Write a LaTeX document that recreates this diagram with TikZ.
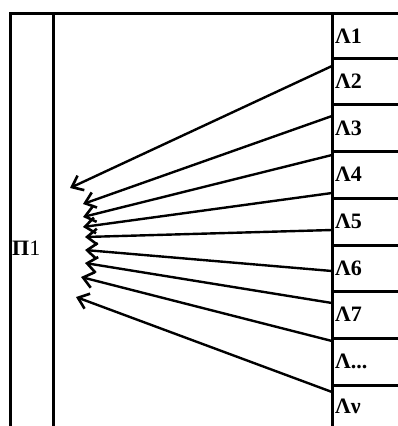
\documentclass[tikz,border=0pt]{standalone}
\usepackage{fontspec}
\setmainfont{Liberation Serif}
\usetikzlibrary{arrows.meta}
\begin{document}
\begin{tikzpicture}[x=1pt,y=-1pt,
  border/.style={line width=3pt, line cap=rect},
  link/.style={line width=2.4pt, -{Straight Barb[length=10pt,width=16pt,line width=2.6pt]}},
  lab/.style={anchor=west, inner sep=0pt, font=\fontsize{22}{22}\selectfont\bfseries}]
\useasboundingbox (0,0) rectangle (398,426);
% frame
\draw[border] (10,426) -- (10,13) -- (398,13);
\draw[border] (53,13) -- (53,426);
\draw[border] (332,13) -- (332,426);
\foreach \y in {58,104,151,198,245,291,338,385}
  \draw[border] (332,\y) -- (398,\y);
% labels
\node[lab] (P) at (12,248) {Π\textmd{1}};
\node[lab] (L1) at (335,36) {Λ1};
\node[lab] (L2) at (335,81) {Λ2};
\node[lab] (L3) at (335,128) {Λ3};
\node[lab] (L4) at (335,174) {Λ4};
\node[lab] (L5) at (335,221) {Λ5};
\node[lab] (L6) at (335,268) {Λ6};
\node[lab] (L7) at (335,314) {Λ7};
\node[lab] (L8) at (335,361) {Λ...};
\node[lab] (L9) at (335,406) {Λν};
% arrow ends
\coordinate (s1) at (332,66);
\coordinate (s2) at (332,116);
\coordinate (s3) at (332,155);
\coordinate (s4) at (332,193);
\coordinate (s5) at (332,230);
\coordinate (s6) at (332,271);
\coordinate (s7) at (332,303);
\coordinate (s8) at (332,341);
\coordinate (s9) at (332,392);
\coordinate (t1) at (70,188);
\coordinate (t2) at (83,204);
\coordinate (t3) at (83,217);
\coordinate (t4) at (83,227);
\coordinate (t5) at (85,237);
\coordinate (t6) at (85,250);
\coordinate (t7) at (85,263);
\coordinate (t8) at (81,277);
\coordinate (t9) at (76,297);
\foreach \i in {1,...,9}
  \draw[link] (s\i) -- (t\i);
\end{tikzpicture}
\end{document}
